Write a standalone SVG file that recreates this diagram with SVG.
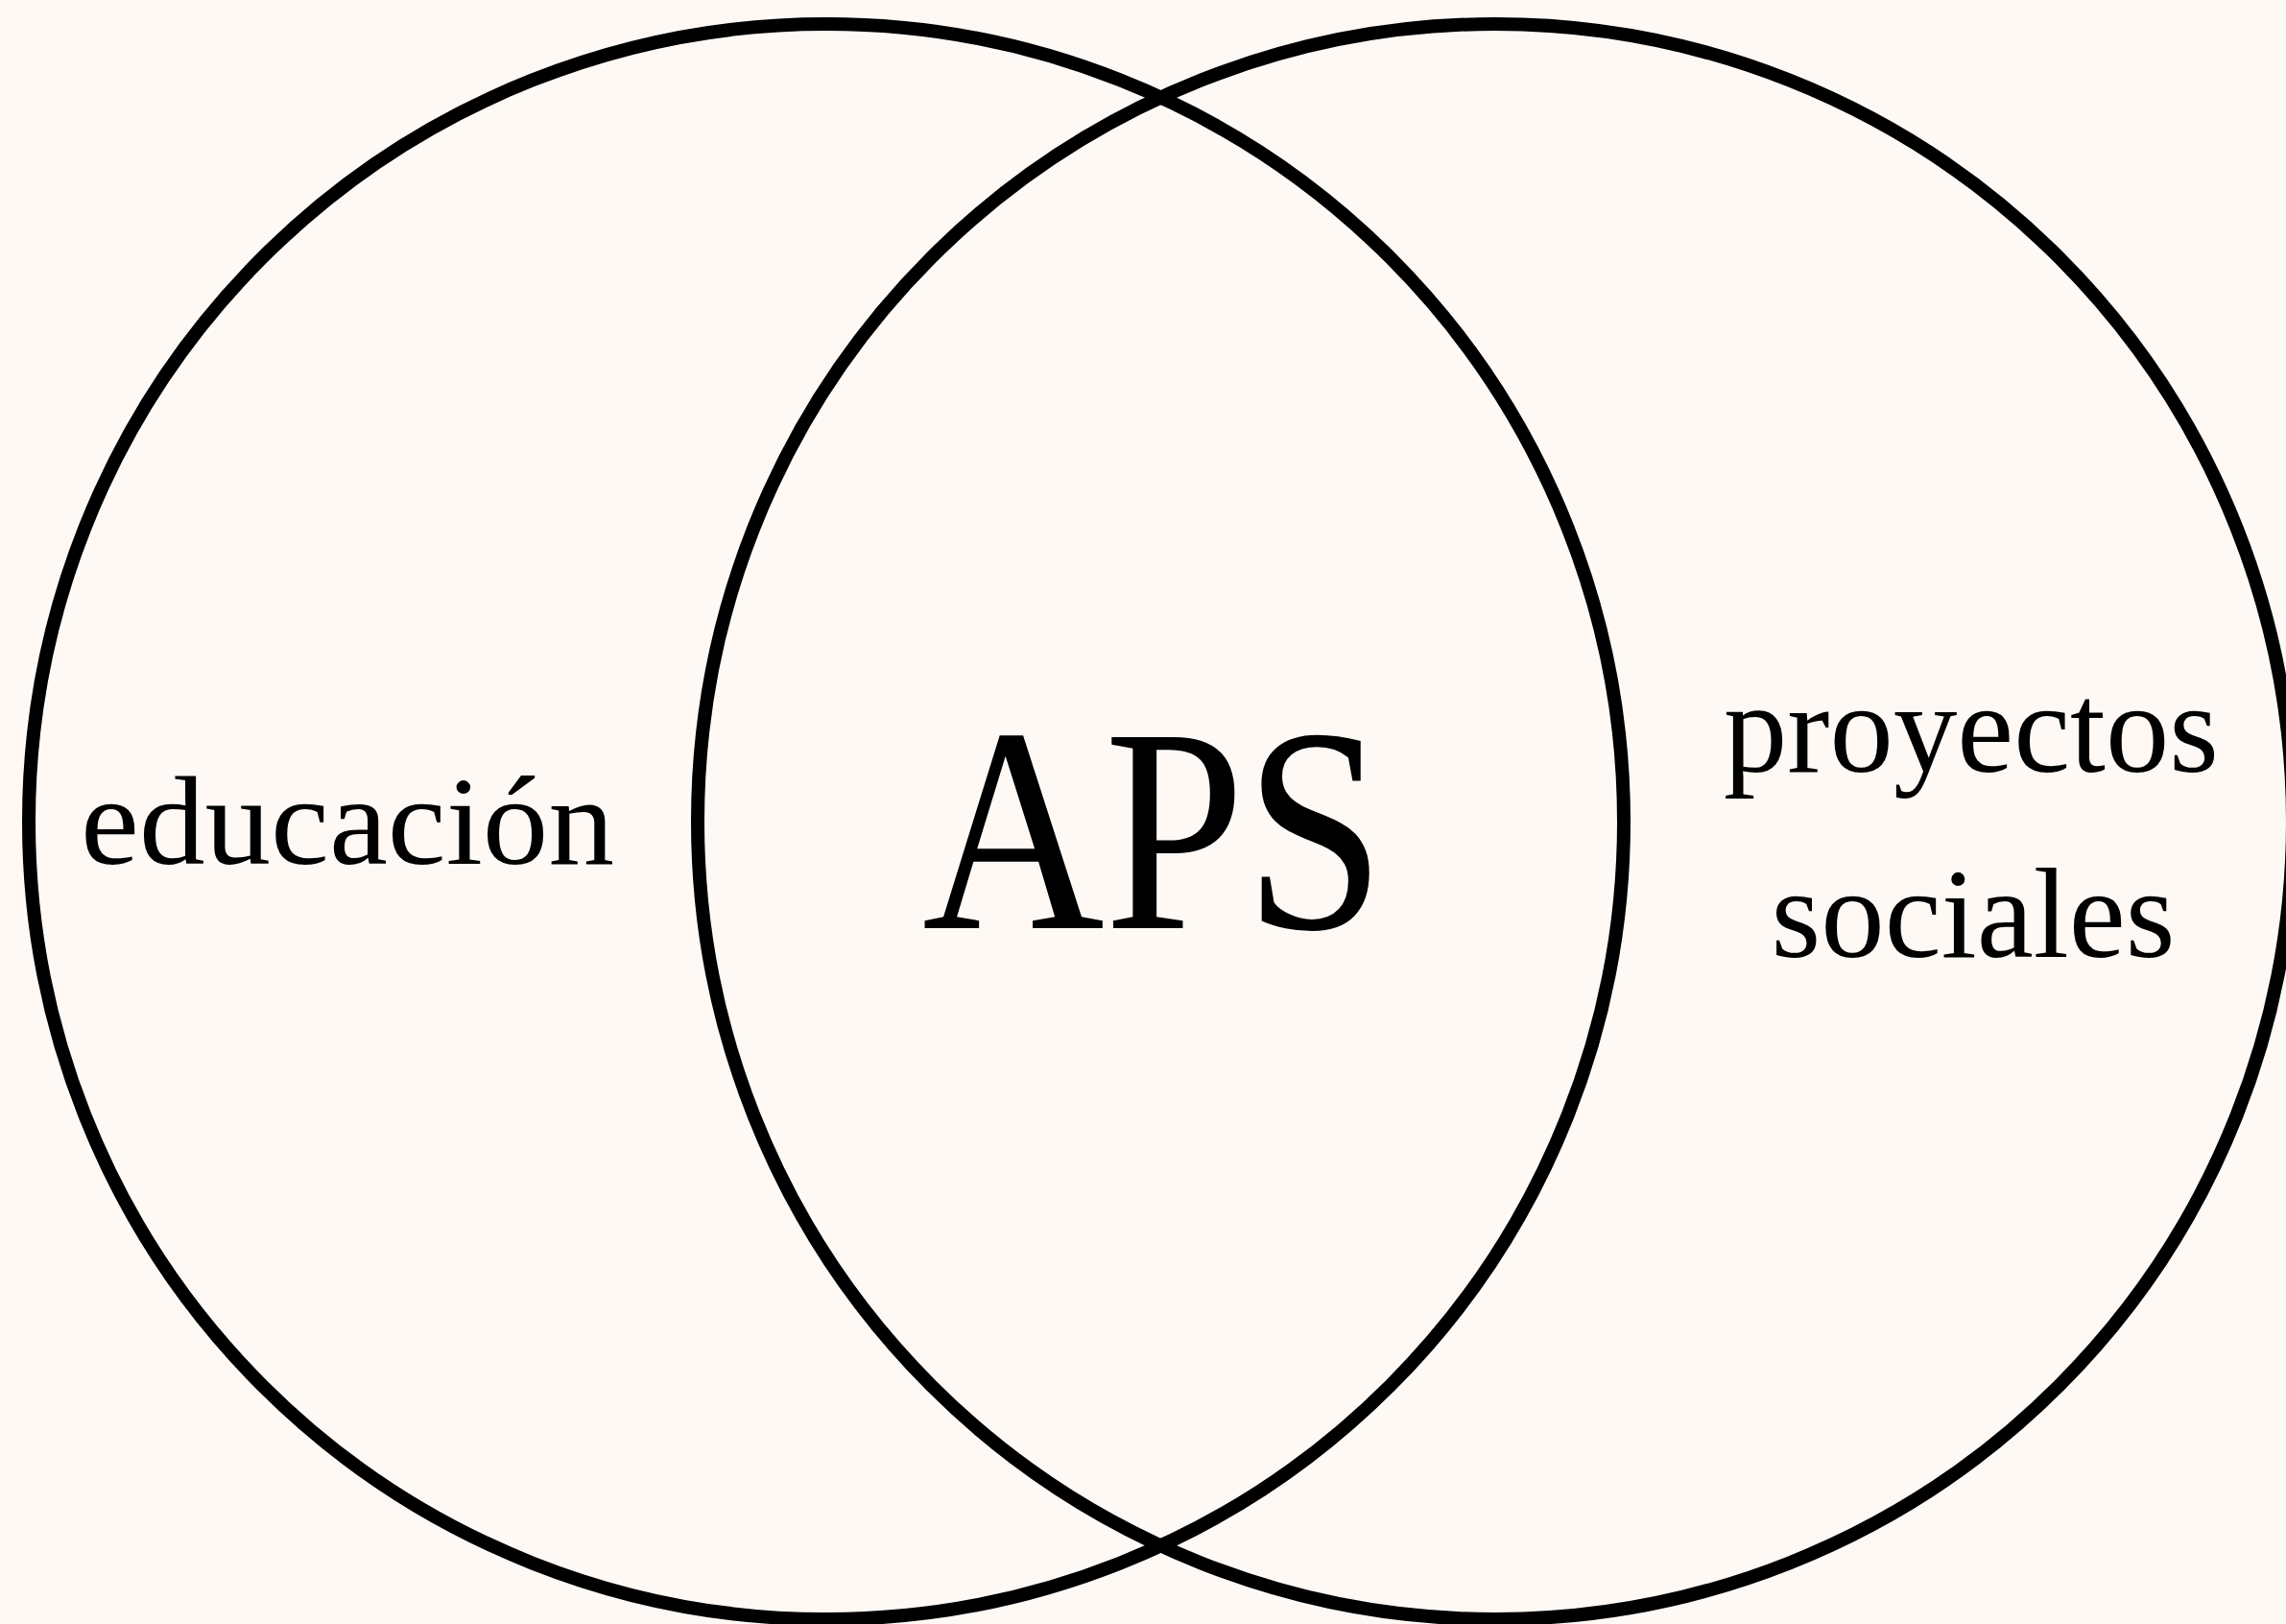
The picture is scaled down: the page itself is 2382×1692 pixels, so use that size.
<svg xmlns="http://www.w3.org/2000/svg" width="2382" height="1692" viewBox="0 0 2382 1692">
<style>
.ring{fill:none;stroke:#000;stroke-width:14}
.lbl{font-family:'Liberation Serif','Times New Roman',Times,serif;font-weight:normal;fill:#000;text-anchor:middle}
</style>
<rect width="2382" height="1692" fill="#FEF9F5"/>
<g id="set-educacion">
<circle class="ring" cx="861" cy="856" r="831"/>
<text class="lbl" x="362" y="900" font-size="132" textLength="556" lengthAdjust="spacingAndGlyphs">educación</text>
</g>
<g id="set-proyectos">
<circle class="ring" cx="1558" cy="856" r="831"/>
<text class="lbl" x="2054" y="804" font-size="134" textLength="516" lengthAdjust="spacingAndGlyphs">proyectos</text>
<text class="lbl" x="2056" y="997" font-size="134" textLength="421" lengthAdjust="spacingAndGlyphs">sociales</text>
</g>
<g id="intersection-aps">
<text class="lbl" x="1202" y="967" font-size="304" textLength="482" lengthAdjust="spacingAndGlyphs">APS</text>
</g>
<g id="connectors"/>
</svg>
